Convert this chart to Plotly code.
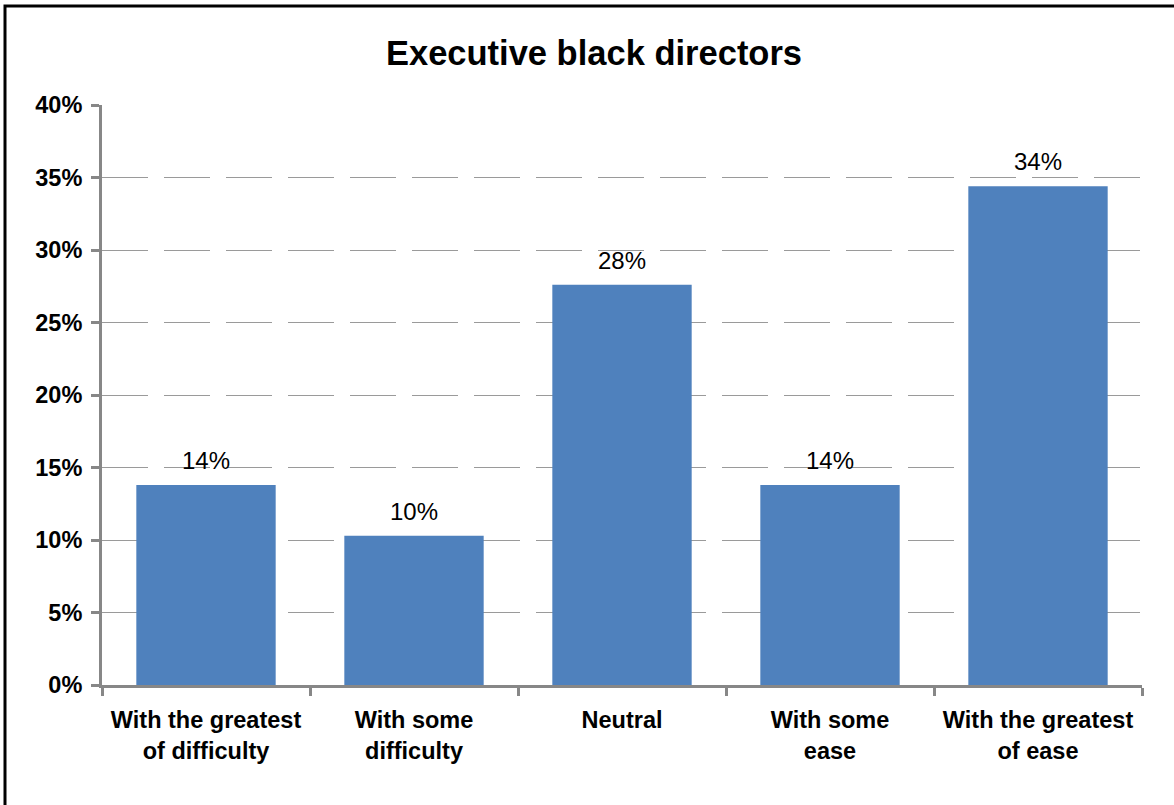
import plotly.graph_objects as go

categories = ["With the greatest<br>of difficulty", "With some<br>difficulty", "Neutral",
              "With some<br>ease", "With the greatest<br>of ease"]
values = [13.8, 10.3, 27.6, 13.8, 34.4]
y_ticks = [0, 5, 10, 15, 20, 25, 30, 35, 40]
y_tick_labels = ["0%", "5%", "10%", "15%", "20%", "25%", "30%", "35%", "40%"]

W, H = 1174, 805
L, R, T, B = 102, 32, 105, 120
pw, ph = W - L - R, H - T - B
FONT = "Liberation Sans, Arial"

fig = go.Figure(go.Bar(
    x=categories, y=values,
    marker=dict(color="#4F81BD", line=dict(width=0)),
    cliponaxis=False,
))

# data labels above bars
for c, v in zip(categories, values):
    fig.add_annotation(x=c, y=v, text=f"{v:.0f}%", showarrow=False,
                       xanchor="center", yanchor="bottom", yshift=9,
                       font=dict(family=FONT, size=24, color="#000"))

fig.update_layout(
    width=W, height=H,
    margin=dict(l=L, r=R, t=T, b=B),
    paper_bgcolor="white", plot_bgcolor="white",
    bargap=0.33,
    showlegend=False,
    title=dict(text="<b>Executive black directors</b>", x=594 / W, xanchor="center",
               y=1 - 53 / H, yanchor="middle",
               font=dict(family=FONT, size=34.5, color="#000")),
    font=dict(family=FONT, color="#000"),
)

fig.update_yaxes(
    range=[0, 40], tickmode="array", tickvals=y_ticks, ticktext=y_tick_labels,
    tickfont=dict(family=FONT, size=23.5, color="#000", weight="bold"),
    showline=True, linecolor="#878787", linewidth=3,
    ticks="outside", ticklen=8, tickwidth=3, tickcolor="#878787",
    ticklabelstandoff=4,
    showgrid=True, gridcolor="#9a9a9a", gridwidth=1, griddash="46px,16px",
    zeroline=False,
)
fig.update_xaxes(
    tickfont=dict(family=FONT, size=23.5, color="#000", weight="bold"),
    showline=True, linecolor="#878787", linewidth=3,
    ticks="outside", ticklen=8, tickwidth=3, tickcolor="#878787",
    tickson="boundaries",
    ticklabelstandoff=12,
    showgrid=False,
)

# outer frame (top-left visible, right/bottom beyond canvas)
fig.add_shape(type="rect", xref="paper", yref="paper",
              x0=(5 - L) / pw, x1=(W + 10 - L) / pw,
              y0=(H - B - (H + 10)) / ph, y1=(H - B - 6) / ph,
              line=dict(color="#000", width=3), fillcolor="rgba(0,0,0,0)", layer="above")

fig.write_html("out.html")
